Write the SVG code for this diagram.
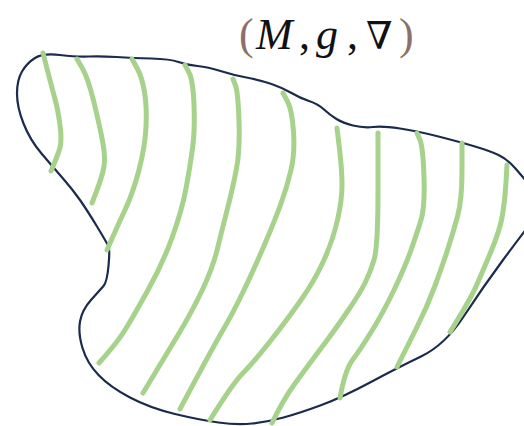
<svg xmlns="http://www.w3.org/2000/svg" width="524" height="426" viewBox="0 0 524 426">
<style>
.outline{fill:none;stroke:#1b2b4d;stroke-width:2.2;stroke-linejoin:round;stroke-linecap:round}
.fib{fill:none;stroke:#a6d28b;stroke-width:5;stroke-linejoin:round;stroke-linecap:round}
.lbl{font-family:"Liberation Serif","DejaVu Serif",serif;font-size:44px}
.par{fill:#8c716b}
.var{fill:#111;font-style:italic}
</style>
<rect width="524" height="426" fill="#fff"/>
<g id="manifold">
<path class="outline" d="M35,58 Q43,53 60,55 Q77,57 88.5,56.5 Q100,56 116.5,57 Q133,58 151.5,58.5 Q170,59 178.5,62 Q187,65 197.5,66 Q208,67 220.5,71 Q233,75 246.5,77.5 Q260,80 271.5,84 Q283,88 291.5,93 Q300,98 309,101 Q318,104 324,109.5 Q330,115 336.5,119 Q343,123 353,125.5 Q363,128 373,127 Q383,126 400,128.5 Q417,131 438.5,136.5 Q460,142 475,146.5 Q490,151 498.5,155 Q507,159 515,168 Q523,177 534,191 Q545,205 534,219 Q523,233 503,260 Q483,287 464,316 Q445,345 421,356.5 Q397,368 370,382.5 Q343,397 321.5,405 Q300,413 283.5,417.5 Q267,422 252,423.5 Q237,425 218.5,422.5 Q200,420 175,414 Q150,408 130,397.5 Q110,387 98.5,375 Q87,363 82.5,348 Q78,333 80,321.5 Q82,310 91,300 Q100,290 103.5,286 Q107,282 108.5,266 Q110,250 108.5,246.5 Q107,243 97,226.5 Q87,210 80,200 Q73,190 63,178.5 Q53,167 41.5,153.5 Q30,140 23.5,123.5 Q17,107 17,93.5 Q17,80 22,71.5 Q27,63 35,58 Z"/>
</g>
<g id="fibers">
<path class="fib" d="M43,53 L47.5,70.5 Q52,88 55,99 Q58,110 60,125 Q62,140 60,147.5 Q58,155 51,171"/>
<path class="fib" d="M77,59 L82.5,68.5 Q88,78 94,102.5 Q100,127 103,143.5 Q106,160 103,171.5 Q100,183 92,203"/>
<path class="fib" d="M132,59 L137,68 Q142,77 144.5,92 Q147,107 146,127 Q145,147 139,170 Q133,193 125,210 Q117,227 107,250"/>
<path class="fib" d="M185,65 L189,72.5 Q193,80 194,105 Q195,130 192.5,148.5 Q190,167 186,188.5 Q182,210 172.5,236.5 Q163,263 148,290 Q133,317 125,330 Q117,343 99,363"/>
<path class="fib" d="M233,79 L235.5,85.5 Q238,92 239,121 Q240,150 236.5,168.5 Q233,187 227.5,208.5 Q222,230 217.5,248.5 Q213,267 203,288.5 Q193,310 178,335 Q163,360 143,393"/>
<path class="fib" d="M283,93 L287.5,101.5 Q292,110 293.5,131.5 Q295,153 291,170 Q287,187 281,203.5 Q275,220 265,243.5 Q255,267 244,290 Q233,313 223,330 Q213,347 180,409"/>
<path class="fib" d="M337,128 L339.5,149 Q342,170 342,185 Q342,200 337.5,220 Q333,240 324,260 Q315,280 301,300 Q287,320 270,341.5 Q253,363 243,373 Q233,383 210,420"/>
<path class="fib" d="M378,133 L378,190 Q378,247 374,260 Q370,273 365,283 Q360,293 348.5,310 Q337,327 322,347 Q307,367 295,383.5 Q283,400 272,423"/>
<path class="fib" d="M417,133 L420,140 Q423,147 424,177 Q425,207 421,220 Q417,233 411,250 Q405,267 394,290 Q383,313 371.5,331.5 Q360,350 352.5,360 Q345,370 340,398"/>
<path class="fib" d="M462,143 L462,171.5 Q462,200 457.5,216.5 Q453,233 447.5,250 Q442,267 434.5,287 Q427,307 417,327 Q407,347 397,367"/>
<path class="fib" d="M507,165 L506,182.5 Q505,200 502.5,215 Q500,230 491,251.5 Q482,273 476,286.5 Q470,300 450,332"/>
</g>
<g id="label">
<text class="lbl" y="49"><tspan class="par" x="239">(</tspan><tspan class="var" x="256">M</tspan><tspan x="299" fill="#111">,</tspan><tspan class="var" x="316">g</tspan><tspan x="347" fill="#111">,</tspan><tspan x="366" fill="#111" font-size="38">∇</tspan><tspan class="par" x="399">)</tspan></text>
</g>
</svg>
